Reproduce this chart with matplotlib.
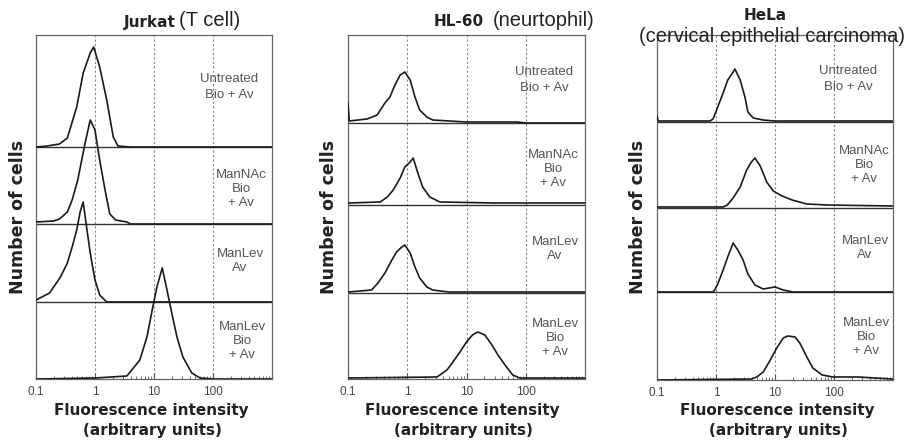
import matplotlib
matplotlib.use("Agg")
import matplotlib.pyplot as plt
from matplotlib.ticker import FixedLocator, LogLocator, NullFormatter

# ---------------- data ----------------
conditions = ["Untreated\nBio + Av", "ManNAc\nBio\n+ Av", "ManLev\nAv", "ManLev\nBio\n+ Av"]
tick_values = [0.1, 1, 10, 100, 1000]
tick_labels = ["0.1", "1", "10", "100", ""]

# Jurkat (T cell)
jurkat_untreated_x = [0.1, 0.155, 0.25, 0.34, 0.49, 0.63, 0.83, 0.95, 1.2, 1.58, 2.04, 2.45, 3.98, 1000]
jurkat_untreated_y = [0, 1, 3, 9, 40, 74, 94, 100, 80, 47, 10, 1, 0, 0]
jurkat_mannac_x = [0.1, 0.2, 0.25, 0.34, 0.41, 0.51, 0.68, 0.83, 1.0, 1.2, 1.48, 1.78, 2.24, 3.47, 3.98, 1000]
jurkat_mannac_y = [2, 3, 5, 12, 24, 44, 81, 104, 94, 64, 34, 10, 4, 2, 0, 0]
jurkat_manlev_av_x = [0.1, 0.17, 0.26, 0.34, 0.41, 0.49, 0.56, 0.63, 0.72, 0.83, 1.0, 1.2, 1.58, 1000]
jurkat_manlev_av_y = [2, 9, 25, 39, 55, 72, 90, 100, 75, 49, 22, 7, 0, 0]
jurkat_manlev_bio_x = [0.1, 1.0, 3.47, 5.75, 7.59, 9.33, 11.2, 13.8, 16.6, 20, 24.5, 30.9, 43.7, 60.3, 100, 1000]
jurkat_manlev_bio_y = [0, 1, 3, 19, 42, 69, 92, 111, 89, 66, 42, 22, 6, 1, 0, 0]

# HL-60 (neutrophil)
hl60_untreated_x = [0.1, 0.105, 0.21, 0.31, 0.42, 0.51, 0.62, 0.76, 0.91, 1.12, 1.35, 1.62, 2.14, 2.69, 10, 70.8, 100, 1000]
hl60_untreated_y = [20, 2, 4, 8, 20, 26, 38, 48, 51, 43, 26, 13, 6, 3, 1, 1, 0, 0]
hl60_mannac_x = [0.1, 0.35, 0.46, 0.58, 0.76, 0.91, 1.12, 1.26, 1.51, 1.82, 2.4, 3.55, 31.6, 1000]
hl60_mannac_y = [2, 3, 8, 15, 27, 38, 43, 47, 32, 18, 8, 3, 2, 2]
hl60_manlev_av_x = [0.1, 0.25, 0.32, 0.42, 0.55, 0.66, 0.81, 0.91, 1.12, 1.35, 1.62, 2.14, 2.69, 5.0, 1000]
hl60_manlev_av_y = [1, 3, 10, 20, 33, 41, 46, 48, 40, 26, 15, 6, 3, 1, 1]
hl60_manlev_bio_x = [0.1, 3.16, 3.55, 4.68, 5.89, 7.76, 10, 12.6, 15.5, 20.4, 26.9, 33.9, 44.7, 60.3, 79.4, 1000]
hl60_manlev_bio_y = [1, 2, 4, 9, 17, 27, 37, 44, 47, 44, 34, 24, 14, 4, 1, 1]

# HeLa (cervical epithelial carcinoma)
hela_untreated_x = [0.1, 0.105, 0.79, 0.89, 1.07, 1.32, 1.58, 1.95, 2.09, 2.57, 3.09, 3.47, 4.27, 6.31, 10, 1000]
hela_untreated_y = [6, 1, 1, 3, 15, 29, 42, 50, 53, 42, 25, 10, 4, 2, 1, 1]
hela_mannac_x = [0.1, 1.32, 1.55, 1.95, 2.57, 3.31, 3.98, 4.57, 5.62, 7.24, 9.33, 13.2, 19.5, 34.7, 75.9, 1000]
hela_mannac_y = [1, 1, 3, 10, 21, 38, 46, 50, 42, 26, 17, 12, 8, 4, 3, 2]
hela_manlev_av_x = [0.1, 0.89, 0.95, 1.07, 1.32, 1.58, 1.95, 2.34, 2.88, 3.47, 4.57, 6.31, 10, 13.8, 20, 1000]
hela_manlev_av_y = [0, 0, 2, 8, 22, 35, 49, 42, 32, 18, 7, 3, 5, 2, 0, 0]
hela_manlev_bio_x = [0.1, 3.98, 4.9, 6.31, 8.32, 10.7, 13.8, 16.6, 21.9, 26.3, 34.7, 43.7, 63.1, 95.5, 251, 1000]
hela_manlev_bio_y = [0, 1, 3, 8, 20, 32, 42, 44, 43, 37, 23, 12, 5, 3, 3, 1]

# ---------------- layout ----------------
W, H = 914, 446
fig = plt.figure(figsize=(W / 100, H / 100), dpi=100)
fig.patch.set_facecolor("white")

def px_axes(x0, x1, y0, y1):
    return fig.add_axes([x0 / W, 1 - y1 / H, (x1 - x0) / W, (y1 - y0) / H])

panels = [
    dict(box=(36, 272, 35, 379), xlab=151,
         curves=[(jurkat_untreated_x, jurkat_untreated_y), (jurkat_mannac_x, jurkat_mannac_y),
                 (jurkat_manlev_av_x, jurkat_manlev_av_y), (jurkat_manlev_bio_x, jurkat_manlev_bio_y)],
         base_px=[147, 224, 302, 379],
         label_pos=[(229, 87), (241, 189), (240, 261), (242, 341)]),
    dict(box=(348, 585, 35, 379), xlab=462,
         curves=[(hl60_untreated_x, hl60_untreated_y), (hl60_mannac_x, hl60_mannac_y),
                 (hl60_manlev_av_x, hl60_manlev_av_y), (hl60_manlev_bio_x, hl60_manlev_bio_y)],
         base_px=[123, 205, 293, 379],
         label_pos=[(544, 80), (553, 169), (555, 249), (555, 338)]),
    dict(box=(657, 893, 35, 380), xlab=777,
         curves=[(hela_untreated_x, hela_untreated_y), (hela_mannac_x, hela_mannac_y),
                 (hela_manlev_av_x, hela_manlev_av_y), (hela_manlev_bio_x, hela_manlev_bio_y)],
         base_px=[122, 208, 292, 380],
         label_pos=[(848, 79), (864, 165), (865, 248), (866, 337)]),
]

grey = "#555555"
for p in panels:
    x0, x1, y0, y1 = p["box"]
    ax = px_axes(x0, x1, y0, y1)
    ax.set_xscale("log")
    ax.set_xlim(0.1, 1000)
    ax.set_ylim(0, y1 - y0)
    for v in [1, 10, 100]:
        ax.axvline(v, color="#888888", ls=(0, (2, 2)), lw=0.8, zorder=1)
    for b in p["base_px"][:-1]:
        ax.axhline(y1 - b, color="#333333", lw=1.0, zorder=2)
    for (cx, cy), b in zip(p["curves"], p["base_px"]):
        off = y1 - b
        ax.plot(cx, [v + off for v in cy], color="#1a1a1a", lw=1.2, zorder=3)
    for i, (txt, (lx, ly)) in enumerate(zip(conditions, p["label_pos"])):
        fig.text(lx / W, 1 - ly / H, txt, ha="center", va="center", fontsize=9.5,
                 color=grey, family="Liberation Sans",
                 linespacing=1.45 if i == 0 else 1.25)
    ax.yaxis.set_visible(False)
    ax.xaxis.set_major_locator(FixedLocator(tick_values))
    ax.set_xticklabels(tick_labels)
    ax.xaxis.set_minor_locator(LogLocator(base=10, subs=range(2, 10)))
    ax.xaxis.set_minor_formatter(NullFormatter())
    ax.tick_params(axis="x", which="major", direction="in", length=4, color=grey,
                   labelsize=8.5, labelcolor="#444444", pad=5)
    ax.tick_params(axis="x", which="minor", direction="in", length=2.5, color=grey)
    for lab in ax.get_xticklabels():
        lab.set_family("Liberation Sans")
    for s in ax.spines.values():
        s.set_color("#666666")
        s.set_linewidth(0.9)
    fig.text(p["xlab"] / W, 1 - 411 / H, "Fluorescence intensity", ha="center", va="center",
             fontsize=11, fontweight="bold", family="DejaVu Sans", color="#222222")
    fig.text((p["xlab"] + 1) / W, 1 - 431 / H, "(arbitrary units)", ha="center", va="center",
             fontsize=11, fontweight="bold", family="DejaVu Sans", color="#222222")

# y labels
for xl in [18, 329, 638]:
    fig.text(xl / W, 1 - 217 / H, "Number of cells", rotation=90, ha="center", va="center",
             fontsize=12.5, fontweight="bold", family="DejaVu Sans", color="#222222")

# titles
fig.text(176 / W, 1 - 22 / H, "Jurkat", ha="right", va="center", fontsize=11,
         fontweight="bold", family="DejaVu Sans", color="#222222")
fig.text(179 / W, 1 - 21 / H, "(T cell)", ha="left", va="center", fontsize=14.5,
         family="Liberation Sans", color="#222222")
fig.text(459 / W, 1 - 22 / H, "HL-60", ha="center", va="center", fontsize=11,
         fontweight="bold", family="DejaVu Sans", color="#222222")
fig.text(493 / W, 1 - 21 / H, "(neurtophil)", ha="left", va="center", fontsize=14.5,
         family="Liberation Sans", color="#222222")
fig.text(765 / W, 1 - 16 / H, "HeLa", ha="center", va="center", fontsize=11,
         fontweight="bold", family="DejaVu Sans", color="#222222")
fig.text(772 / W, 1 - 37 / H, "(cervical epithelial carcinoma)", ha="center", va="center",
         fontsize=14.5, family="Liberation Sans", color="#222222")

fig.savefig("out.png", dpi=100, facecolor="white")
